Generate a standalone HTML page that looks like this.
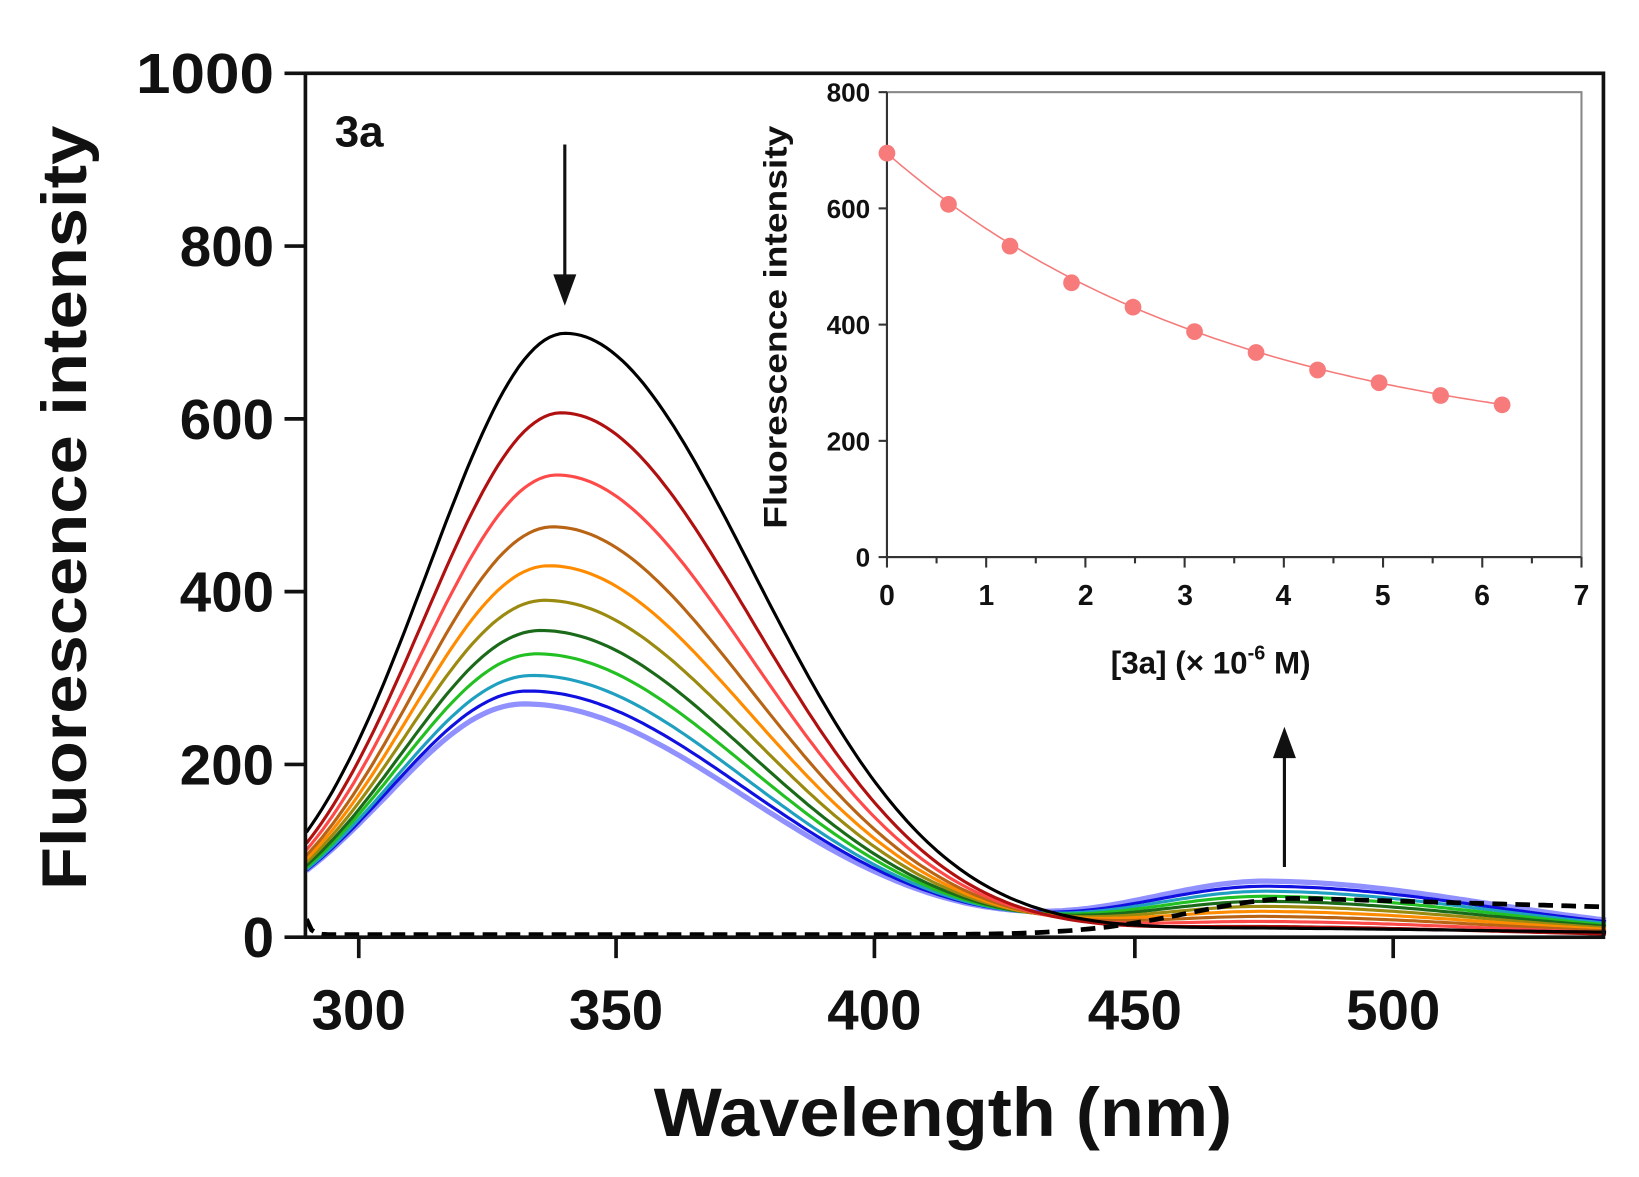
<!DOCTYPE html>
<html><head><meta charset="utf-8"><style>
html,body{margin:0;padding:0;background:#fff;}
svg{display:block;}
text{font-family:"Liberation Sans",sans-serif;font-weight:bold;fill:#111;}
</style></head><body>
<svg id="s" width="1639" height="1177" viewBox="0 0 1567 1124" preserveAspectRatio="none" xmlns="http://www.w3.org/2000/svg">
<rect x="0" y="0" width="1567" height="1124" fill="#fff"/>
<g id="curves"></g>
<rect x="292" y="70" width="1241" height="825" fill="none" stroke="#111" stroke-width="3.5"/>
<g stroke="#111" stroke-width="3.5">
<line x1="272" y1="70" x2="292" y2="70"/><line x1="272" y1="235" x2="292" y2="235"/><line x1="272" y1="400" x2="292" y2="400"/><line x1="272" y1="565" x2="292" y2="565"/><line x1="272" y1="730" x2="292" y2="730"/><line x1="272" y1="895" x2="292" y2="895"/>
<line x1="343" y1="895" x2="343" y2="915"/><line x1="589" y1="895" x2="589" y2="915"/><line x1="836" y1="895" x2="836" y2="915"/><line x1="1085" y1="895" x2="1085" y2="915"/><line x1="1332" y1="895" x2="1332" y2="915"/>
</g>
<g font-size="54" text-anchor="end">
<text x="262" y="89" textLength="132" lengthAdjust="spacingAndGlyphs">1000</text><text x="262" y="254">800</text><text x="262" y="419">600</text><text x="262" y="584">400</text><text x="262" y="749">200</text><text x="262" y="914">0</text>
</g>
<g font-size="54" text-anchor="middle">
<text x="343" y="983">300</text><text x="589" y="983">350</text><text x="836" y="983">400</text><text x="1085" y="983">450</text><text x="1332" y="983">500</text>
</g>
<text x="625" y="1085" font-size="66" textLength="553" lengthAdjust="spacingAndGlyphs">Wavelength (nm)</text>
<text transform="translate(82,850) rotate(-90)" font-size="60" textLength="730" lengthAdjust="spacingAndGlyphs">Fluorescence intensity</text>
<text x="320" y="140" font-size="42">3a</text>
<line x1="540" y1="138" x2="540" y2="268" stroke="#111" stroke-width="3"/>
<polygon points="529,262 551,262 540,292" fill="#111"/>
<line x1="1228" y1="828" x2="1228" y2="718" stroke="#111" stroke-width="3"/>
<polygon points="1217,724 1239,724 1228,694" fill="#111"/>
<rect x="848" y="88" width="664" height="444" fill="none" stroke="#888" stroke-width="2"/>
<line x1="848" y1="88" x2="848" y2="532" stroke="#333" stroke-width="2"/>
<line x1="848" y1="532" x2="1512" y2="532" stroke="#333" stroke-width="2"/>
<g id="itk" stroke="#333" stroke-width="2"></g>
<g font-size="25" text-anchor="end">
<text x="832" y="97">800</text><text x="832" y="208">600</text><text x="832" y="319">400</text><text x="832" y="430">200</text><text x="832" y="541">0</text>
</g>
<g font-size="27" text-anchor="middle">
<text x="848" y="578">0</text><text x="943" y="578">1</text><text x="1038" y="578">2</text><text x="1133" y="578">3</text><text x="1227" y="578">4</text><text x="1322" y="578">5</text><text x="1417" y="578">6</text><text x="1512" y="578">7</text>
</g>
<text x="1062" y="643" font-size="30">[3a] (× 10<tspan dy="-13" font-size="19">-6</tspan><tspan dy="13"> M)</tspan></text>
<text transform="translate(752,505) rotate(-90)" font-size="31" textLength="385" lengthAdjust="spacingAndGlyphs">Fluorescence intensity</text>
<g id="inset"></g>
</svg>
<script>
var NS="http://www.w3.org/2000/svg";
function X(l){return 293+(l-290)*247.5/50;}
function Y(v){return 895-v*0.825;}
var cols=["#000000","#b01010","#ff4a4a","#b86414","#ff8c00","#9a8a10","#1a6a1a","#22c022","#20a0c0","#1010e0","#9090ff"];
var peaks=[695,607,535,475,430,390,355,328,303,285,270];
var g=document.getElementById("curves");
function path(d,c,w,dash){var p=document.createElementNS(NS,"path");p.setAttribute("d",d);p.setAttribute("fill","none");p.setAttribute("stroke",c);p.setAttribute("stroke-width",w);if(dash)p.setAttribute("stroke-dasharray",dash);g.appendChild(p);}
for(var i=cols.length-1;i>=0;i--){
 var t=i/10,A=peaks[i],p=340-8*t,wL=37.5,wR=51+9*t,B=6+58*t,d="";
 for(var l=290;l<=541;l+=1){
  var v=A*Math.exp(-Math.pow((l-p)/(l<p?wL:wR),2))+B*Math.exp(-Math.pow((l-476)/(l<476?35:60),2))+(i==0?4:0);
  d+=(l==290?"M":"L")+X(l).toFixed(1)+","+Y(v).toFixed(1);
 }
 path(d,cols[i],i==10?5:3);
}
var d="";
for(var l=290;l<=541;l+=1){var v=3+18*Math.exp(-(l-290)*1.2)+(l<482?42*Math.exp(-Math.pow((l-482)/30,2)):42-10*(l-482)/59);d+=(l==290?"M":"L")+X(l).toFixed(1)+","+Y(v).toFixed(1);}
path(d,"#000",4.5,"14,8");
var it=document.getElementById("itk");
function ln(a,b,c,e){var q=document.createElementNS(NS,"line");q.setAttribute("x1",a);q.setAttribute("y1",b);q.setAttribute("x2",c);q.setAttribute("y2",e);it.appendChild(q);}
for(var k=0;k<=14;k++){var x=848+k*94.86/2;ln(x,532,x,k%2?538:542);}
for(var k=0;k<=4;k++){var y=532-k*111;ln(840,y,848,y);}
var ins=document.getElementById("inset");
var pts=[[0,695],[0.62,607],[1.24,535],[1.86,472],[2.48,430],[3.1,388],[3.72,352],[4.34,322],[4.96,300],[5.58,278],[6.2,262]];
function IX(x){return 848+x*94.86;}function IY(v){return 532-v*0.555;}
var dd="";for(var x=0;x<=6.21;x+=0.05){var v=175+520*Math.exp(-x/3.48);dd+=(x==0?"M":"L")+IX(x).toFixed(1)+","+IY(v).toFixed(1);}
var pp=document.createElementNS(NS,"path");pp.setAttribute("d",dd);pp.setAttribute("fill","none");pp.setAttribute("stroke","#f57b7b");pp.setAttribute("stroke-width","1.5");ins.appendChild(pp);
pts.forEach(function(a){var c=document.createElementNS(NS,"circle");c.setAttribute("cx",IX(a[0]));c.setAttribute("cy",IY(a[1]));c.setAttribute("r","8");c.setAttribute("fill","#f77b7b");ins.appendChild(c);});
</script>
</body></html>
